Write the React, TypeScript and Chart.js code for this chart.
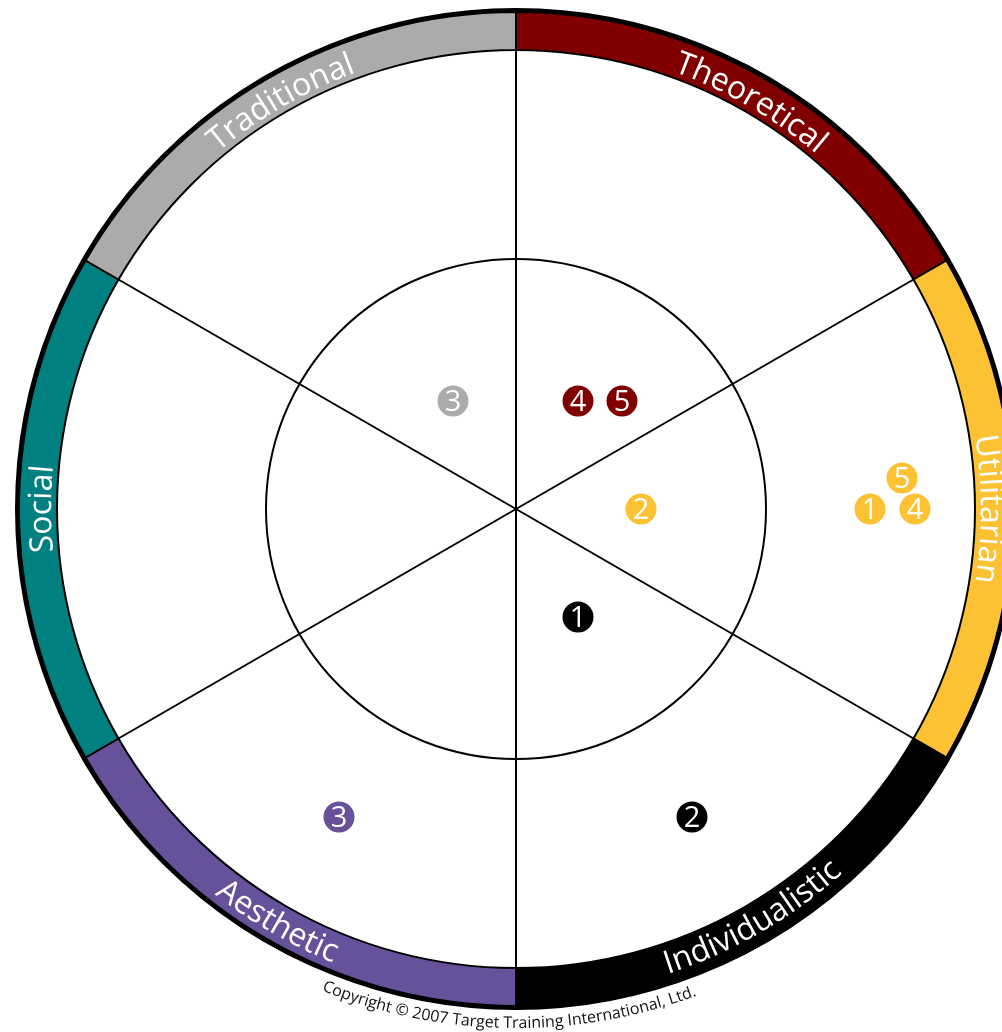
import React, { useEffect, useRef } from 'react';
import { Chart, registerables } from 'chart.js';

Chart.register(...registerables);

// ---- Ring categories (clockwise from the top) ----
const categories = ['Theoretical', 'Utilitarian', 'Individualistic', 'Aesthetic', 'Social', 'Traditional'];
const sectorDegrees = [60, 60, 60, 60, 60, 60];
const palette: Record<string, string> = {
  Theoretical: '#800000',
  Utilitarian: '#FDC233',
  Individualistic: '#000000',
  Aesthetic: '#67519A',
  Social: '#008080',
  Traditional: '#ABABAB',
};

// ---- Numbered dots ----
const dotCategory = [
  'Traditional', 'Theoretical', 'Theoretical', 'Utilitarian', 'Utilitarian',
  'Utilitarian', 'Utilitarian', 'Individualistic', 'Individualistic', 'Aesthetic',
];
const dotLabels = ['3', '4', '5', '2', '1', '4', '5', '1', '2', '3'];
const dotX = [-63, 62, 106, 125, 354, 399, 386, 62, 176, -177];
const dotY = [108, 108, 108, 0, 0, 0, 31, -108, -308, -308];

// ---- Guides (same units as dots) ----
const innerCircleValue = 250;
const ringInnerValue = 459;
const spokeAngles = [-90, -30, 30, 90, 150, 210];

const copyrightText = 'Copyright \u00A9 2007 Target Training International, Ltd.';

// canvas geometry
const W = 1016;
const H = 1024;
const RING_OUTER = 497;
const RING_INNER = 459;

function drawArcText(
  ctx: CanvasRenderingContext2D, text: string, cx: number, cy: number,
  radius: number, midAngle: number, clockwise: boolean, font: string, color: string,
) {
  ctx.save();
  ctx.font = font;
  ctx.fillStyle = color;
  ctx.textAlign = 'center';
  ctx.textBaseline = 'alphabetic';
  const chars = Array.from(text);
  const widths = chars.map((c) => ctx.measureText(c).width);
  const total = widths.reduce((a, b) => a + b, 0);
  const dir = clockwise ? 1 : -1;
  let a = midAngle - (dir * total) / (2 * radius);
  chars.forEach((ch, i) => {
    const w = widths[i];
    const ang = a + (dir * (w / 2)) / radius;
    ctx.save();
    ctx.translate(cx + radius * Math.cos(ang), cy + radius * Math.sin(ang));
    ctx.rotate(ang + (dir * Math.PI) / 2);
    ctx.fillText(ch, 0, 0);
    ctx.restore();
    a += (dir * w) / radius;
  });
  ctx.restore();
}

const ringPlugin = {
  id: 'ringDecor',
  afterDatasetsDraw(chart: any) {
    const ctx: CanvasRenderingContext2D = chart.ctx;
    const meta = chart.getDatasetMeta(0);
    const arcs = meta.data;
    if (!arcs.length) return;
    const cx = arcs[0].x;
    const cy = arcs[0].y;
    const outer = arcs[0].outerRadius;
    // thick outer rim
    ctx.save();
    ctx.beginPath();
    ctx.arc(cx, cy, outer + 2, 0, Math.PI * 2);
    ctx.lineWidth = 4;
    ctx.strokeStyle = '#000';
    ctx.stroke();
    ctx.restore();
    // labels
    arcs.forEach((arc: any, i: number) => {
      const mid = (arc.startAngle + arc.endAngle) / 2;
      const bottom = Math.sin(mid) > 0.5;
      const r = bottom ? outer - 8 : arc.innerRadius + 6;
      drawArcText(ctx, categories[i], cx, cy, r, mid, !bottom, '32px "Open Sans"', '#ffffff');
    });
    // copyright
    drawArcText(ctx, copyrightText, cx, cy, outer + 22, (90.8 * Math.PI) / 180, false, '16px "Open Sans"', '#111111');
  },
};

const guidePlugin = {
  id: 'guides',
  beforeDatasetsDraw(chart: any) {
    const ctx: CanvasRenderingContext2D = chart.ctx;
    const xs = chart.scales.x;
    const ys = chart.scales.y;
    const cx = xs.getPixelForValue(0);
    const cy = ys.getPixelForValue(0);
    const rInner = xs.getPixelForValue(innerCircleValue) - cx;
    const rRing = xs.getPixelForValue(ringInnerValue) - cx;
    ctx.save();
    ctx.strokeStyle = '#000';
    ctx.lineWidth = 2;
    ctx.beginPath();
    ctx.arc(cx, cy, rInner, 0, Math.PI * 2);
    ctx.stroke();
    spokeAngles.forEach((deg) => {
      const a = (deg * Math.PI) / 180;
      ctx.beginPath();
      ctx.moveTo(cx, cy);
      ctx.lineTo(cx + rRing * Math.cos(a), cy + rRing * Math.sin(a));
      ctx.stroke();
    });
    ctx.restore();
  },
  afterDatasetsDraw(chart: any) {
    const ctx: CanvasRenderingContext2D = chart.ctx;
    const meta = chart.getDatasetMeta(0);
    ctx.save();
    ctx.fillStyle = '#ffffff';
    ctx.font = '29px "Open Sans"';
    ctx.textAlign = 'center';
    ctx.textBaseline = 'alphabetic';
    meta.data.forEach((pt: any, i: number) => {
      ctx.fillText(dotLabels[i], pt.x, pt.y + 29 * 0.357);
    });
    ctx.restore();
  },
};

export default function App() {
  const ringRef = useRef<HTMLCanvasElement>(null);
  const dotRef = useRef<HTMLCanvasElement>(null);

  useEffect(() => {
    const ring = new Chart(ringRef.current!, {
      type: 'doughnut',
      data: {
        labels: categories,
        datasets: [
          {
            data: sectorDegrees,
            backgroundColor: categories.map((c) => palette[c]),
            borderColor: '#000',
            borderWidth: 2,
          },
        ],
      },
      options: {
        responsive: false,
        animation: false,
        events: [],
        radius: RING_OUTER,
        cutout: `${(RING_INNER / RING_OUTER) * 100}%`,
        layout: { padding: { left: 0, right: 0, top: 0, bottom: H - 2 * 501 } },
        plugins: { legend: { display: false }, tooltip: { enabled: false } },
      } as any,
      plugins: [ringPlugin],
    });

    const dots = new Chart(dotRef.current!, {
      type: 'scatter',
      data: {
        datasets: [
          {
            data: dotX.map((x, i) => ({ x, y: dotY[i] })),
            pointRadius: 15.5,
            pointBackgroundColor: dotCategory.map((c) => palette[c]),
            pointBorderWidth: 0,
            pointBorderColor: 'rgba(0,0,0,0)',
            clip: false,
          },
        ],
      },
      options: {
        responsive: false,
        animation: false,
        events: [],
        layout: { padding: 0, autoPadding: false },
        scales: {
          x: { type: 'linear', display: false, min: -508, max: W - 508 },
          y: { type: 'linear', display: false, min: -(H - 501), max: 501 },
        },
        plugins: { legend: { display: false }, tooltip: { enabled: false } },
      } as any,
      plugins: [guidePlugin],
    });

    return () => {
      ring.destroy();
      dots.destroy();
    };
  }, []);

  const canvasStyle: React.CSSProperties = {
    position: 'absolute',
    left: 8,
    top: 8,
    width: W,
    height: H,
  };

  return (
    <div
      style={{
        position: 'fixed',
        left: 0,
        top: 0,
        width: 1002,
        height: 1032,
        overflow: 'hidden',
        background: '#fff',
      }}
    >
      <canvas ref={ringRef} width={W} height={H} style={canvasStyle} />
      <canvas ref={dotRef} width={W} height={H} style={canvasStyle} />
    </div>
  );
}
